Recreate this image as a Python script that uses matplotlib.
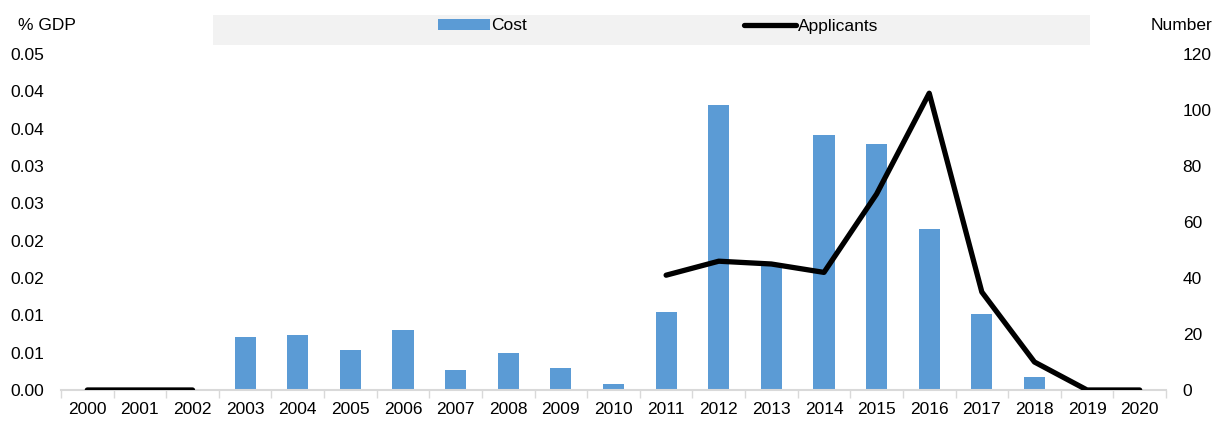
import matplotlib
matplotlib.use("Agg")
import matplotlib.pyplot as plt
import numpy as np
from matplotlib.patches import Rectangle
from matplotlib.lines import Line2D
from matplotlib.ticker import FixedLocator, FuncFormatter
from matplotlib import font_manager

names = {f.name for f in font_manager.fontManager.ttflist}
fam = "Liberation Sans Narrow" if "Liberation Sans Narrow" in names else "Liberation Sans"
plt.rcParams['font.family'] = [fam, 'DejaVu Sans']

years = [str(y) for y in range(2000, 2021)]
cost = [0, 0, 0, 0.0071, 0.0074, 0.0053, 0.0080, 0.0027, 0.0050, 0.0030, 0.0008,
        0.0104, 0.0382, 0.0167, 0.0341, 0.0329, 0.0215, 0.0102, 0.0018, 0, 0]
applicants = [0, 0, 0, np.nan, np.nan, np.nan, np.nan, np.nan, np.nan, np.nan, np.nan,
              41, 46, 45, 42, 70, 106, 35, 10, 0, 0]
left_ticks = [0, 0.005, 0.010, 0.015, 0.020, 0.025, 0.030, 0.035, 0.040, 0.045]
right_ticks = [0, 20, 40, 60, 80, 100, 120]

W, H = 1231, 426
fig = plt.figure(figsize=(W / 100, H / 100), dpi=100)
ax = fig.add_axes([61 / W, 1 - 390 / H, (1166 - 61) / W, (390 - 54) / H])
ax2 = ax.twinx()

x = np.arange(len(years))
bar_color = '#5b9bd5'
ax.bar(x, cost, width=0.4, color=bar_color, zorder=2)
ax.set_xlim(-0.5, len(years) - 0.5)
ax.set_ylim(0, 0.045)
ax.yaxis.set_major_locator(FixedLocator(left_ticks))
ax.yaxis.set_major_formatter(FuncFormatter(lambda v, p: f"{v + 1e-9:.2f}"))

ax2.plot(x, applicants, color='black', lw=3.8, solid_capstyle='round', zorder=3)
ax2.set_ylim(0, 120)
ax2.set_yticks(right_ticks)

fs = 12.5
ax.set_xticks(x)
ax.set_xticklabels(years, fontsize=fs)
ax.set_xticks(np.arange(-0.5, len(years)), minor=True)
ax.tick_params(axis='x', which='major', length=0, pad=9)
ax.tick_params(axis='x', which='minor', length=6, color='#d9d9d9', width=1)
ax.tick_params(axis='y', length=0, labelsize=fs, pad=12)
ax2.tick_params(axis='y', length=0, labelsize=fs, pad=12)

for a in (ax, ax2):
    for s in ('left', 'right', 'top', 'bottom'):
        a.spines[s].set_visible(False)
ax.spines['bottom'].set_visible(True)
ax.spines['bottom'].set_color('#d9d9d9')
ax.spines['bottom'].set_linewidth(1.5)
ax2.patch.set_visible(False)

fig.text(18 / W, 1 - 25 / H, '% GDP', fontsize=fs, va='center', ha='left')
fig.text(1212 / W, 1 - 25 / H, 'Number', fontsize=fs, va='center', ha='right')

fig.patches.append(Rectangle((213 / W, 1 - 45 / H), (1090 - 213) / W, 30 / H,
                             transform=fig.transFigure, facecolor='#f2f2f2',
                             edgecolor='none', zorder=0))
handles = [Rectangle((0, 0), 1, 1, facecolor=bar_color, edgecolor='none'),
           Line2D([0], [0], color='black', lw=3.8, solid_capstyle='round')]
fig.legend(handles, ['Cost', 'Applicants'], loc='center', ncol=2,
           bbox_to_anchor=(658 / W, 1 - 26 / H), frameon=False, fontsize=fs,
           handlelength=3.0, handleheight=0.55, handletextpad=0.1, columnspacing=12.5)

fig.savefig('out.png', dpi=100)
